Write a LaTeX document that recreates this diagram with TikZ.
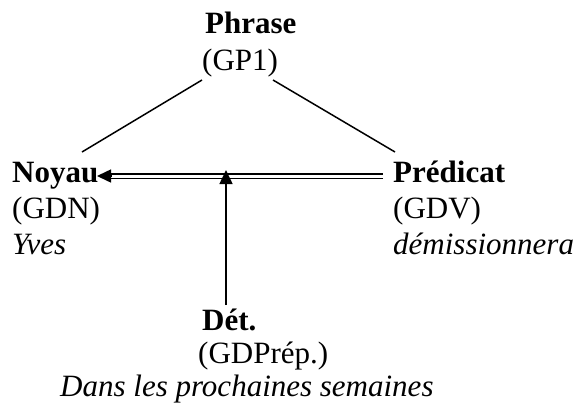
\documentclass[tikz,border=0pt]{standalone}
\usepackage{fontspec}
\setmainfont{Liberation Serif}
\usetikzlibrary{arrows.meta,calc}
\begin{document}
\begin{tikzpicture}[x=1pt,y=-1pt,
  lbl/.style={anchor=base west,inner sep=0pt,font=\fontsize{31}{36}\selectfont},
  head/.style={lbl,font=\fontsize{31}{36}\selectfont\bfseries},
  gloss/.style={lbl,font=\fontsize{31}{36}\selectfont\itshape},
  branch/.style={line width=1.5pt},
  dbl/.style={draw=black,double=white,double distance=3pt,line width=1.7pt},
  tip/.style={-{Triangle[length=14pt,width=13pt]},line width=1.5pt}]
\useasboundingbox (0,0) rectangle (584,407);

% sentence node
\node[head] (phrase) at (205,33) {Phrase};
\node[lbl]  (gp1)    at (202,70) {(GP1)};

% nucleus
\node[head]  (noyau) at (12,182) {Noyau};
\node[lbl]   (gdn)   at (12,218) {(GDN)};
\node[gloss] (yves)  at (12,254) {Yves};

% predicate
\node[head]  (predicat) at (393,182) {Prédicat};
\node[lbl]   (gdv)      at (393,218) {(GDV)};
\node[gloss] (demiss)   at (393,254) {démissionnera};

% determiner
\node[head]  (det)     at (202,330) {Dét.};
\node[lbl]   (gdprep)  at (198,363) {(GDPrép.)};
\node[gloss] (dans)    at (60,396)  {Dans les prochaines semaines};

% attachment points
\coordinate (gpL) at ($(gp1.base west)+(0,10)$);
\coordinate (gpR) at ($(gp1.base west)+(71,10)$);
\coordinate (nyT) at ($(noyau.base west)+(70,-30)$);
\coordinate (prT) at ($(predicat.base west)+(2,-30)$);
\coordinate (prL) at ($(predicat.base west)+(-10,-6)$);
\coordinate (nyR) at ($(noyau.base west)+(85,-6)$);
\coordinate (nyB) at ($(nyR)+(13,0)$);
\coordinate (jn)  at ($(det.base west)+(24,-154)$);
\coordinate (dtT) at ($(det.base west)+(24,-25)$);

% branches
\draw[branch] (gpL) -- (nyT);
\draw[branch] (gpR) -- (prT);

% double relation from the predicate to the nucleus
\draw[dbl] (prL) -- (nyB);
\draw[tip] ($(nyB)+(1,0)$) -- (nyR);

% determiner attached to the relation
\draw[tip] (dtT) -- ($(jn)+(0,-6)$);
\end{tikzpicture}
\end{document}
